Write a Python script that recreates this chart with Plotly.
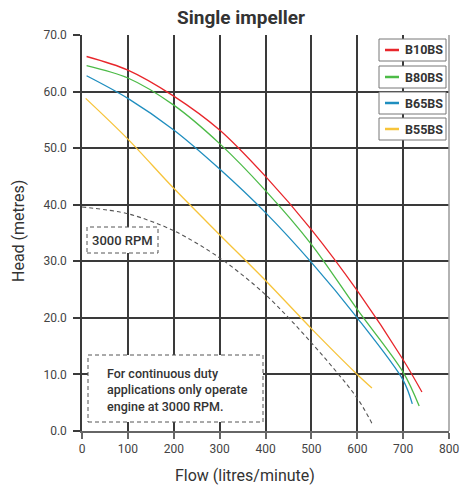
import plotly.graph_objects as go

# ---------------- data ----------------
b10_flow = [10, 100, 200, 300, 400, 500, 600, 700, 741]
b10_head = [66.2, 63.8, 59.2, 53.2, 45.0, 35.6, 24.8, 12.6, 6.9]

b80_flow = [10, 100, 200, 300, 400, 500, 600, 700, 735]
b80_head = [64.6, 62.4, 57.6, 50.8, 42.5, 33.0, 21.5, 10.4, 4.4]

b65_flow = [10, 100, 200, 300, 400, 500, 600, 700, 720]
b65_head = [62.8, 58.8, 53.2, 46.3, 38.6, 29.8, 20.0, 9.0, 4.8]

b55_flow = [8, 100, 200, 300, 400, 500, 600, 632]
b55_head = [58.8, 51.6, 42.9, 34.7, 26.6, 18.1, 10.0, 7.6]

rpm_flow = [0, 100, 200, 300, 400, 500, 600, 633]
rpm_head = [39.6, 38.4, 35.4, 30.6, 24.1, 15.6, 5.8, 1.2]

series_names = ["B10BS", "B80BS", "B65BS", "B55BS"]
series_colors = ["#e8262b", "#4cbb47", "#1f8ebf", "#f7c43a"]
series_flows = [b10_flow, b80_flow, b65_flow, b55_flow]
series_heads = [b10_head, b80_head, b65_head, b55_head]

x_ticks = [0, 100, 200, 300, 400, 500, 600, 700, 800]
y_ticks = [0, 10, 20, 30, 40, 50, 60, 70]

title_text = "Single impeller"
x_title = "Flow (litres/minute)"
y_title = "Head (metres)"
rpm_label = "3000 RPM"
note_text = "For continuous duty<br>applications only operate<br>engine at 3000 RPM."

# ---------------- layout geometry (screen pixels) ----------------
W, H = 460, 489
PL, PR, PT, PB = 82, 449, 35, 431  # plot area
L, T, R, B = PL, PT, W - PR, H - PB
PW, PH = PR - PL, PB - PT
FONT = "Roboto"
TXT = "#333333"


def px(xs):
    return (xs - PL) / PW


def py(ys):
    return (PB - ys) / PH


fig = go.Figure()

fig.add_trace(go.Scatter(
    x=rpm_flow, y=rpm_head, mode="lines", line_shape="spline",
    line=dict(color="#555555", width=1.1, dash="4px,3px", smoothing=0.9),
    showlegend=False, hoverinfo="skip"))

for name, col, fx, hy in zip(series_names[::-1], series_colors[::-1],
                             series_flows[::-1], series_heads[::-1]):
    fig.add_trace(go.Scatter(
        x=fx, y=hy, mode="lines", name=name, line_shape="spline",
        line=dict(color=col, width=1.3, smoothing=0.9), showlegend=False))

shapes = []
annotations = []

# right spine
shapes.append(dict(type="line", xref="paper", yref="paper", x0=1, x1=1, y0=0, y1=1,
                   line=dict(color="#9a9a9a", width=1.5), layer="above"))

# legend boxes
box_tops = [39, 66, 92, 118]
for i, (name, col) in enumerate(zip(series_names, series_colors)):
    top = box_tops[i]
    bot = top + 22
    shapes.append(dict(type="rect", xref="paper", yref="paper",
                       x0=px(379), x1=px(446), y0=py(bot), y1=py(top),
                       fillcolor="white", line=dict(color="#777777", width=1),
                       layer="above"))
    mid = (top + bot) / 2
    shapes.append(dict(type="line", xref="paper", yref="paper",
                       x0=px(385), x1=px(399), y0=py(mid), y1=py(mid),
                       line=dict(color=col, width=2.5), layer="above"))
    annotations.append(dict(xref="paper", yref="paper", x=px(403), y=py(mid),
                            xanchor="left", yanchor="middle", showarrow=False,
                            text=name, font=dict(family=FONT, size=12.5, color=TXT,
                                                 weight="bold")))

# 3000 RPM box
shapes.append(dict(type="rect", xref="paper", yref="paper",
                   x0=px(87), x1=px(158), y0=py(253), y1=py(227),
                   fillcolor="white", line=dict(color="#555555", width=1, dash="4px,3px"),
                   layer="above"))
annotations.append(dict(xref="paper", yref="paper", x=px(122.5), y=py(240),
                        xanchor="center", yanchor="middle", showarrow=False,
                        text=rpm_label, font=dict(family=FONT, size=13, color=TXT,
                                                  weight=500)))

# note box
shapes.append(dict(type="rect", xref="paper", yref="paper",
                   x0=px(88), x1=px(263), y0=py(422), y1=py(355),
                   fillcolor="white", line=dict(color="#555555", width=1, dash="4px,3px"),
                   layer="above"))
annotations.append(dict(xref="paper", yref="paper", x=px(105), y=py(389.5),
                        xanchor="left", yanchor="middle", showarrow=False, align="left",
                        text=note_text, font=dict(family=FONT, size=12.5, color=TXT,
                                                  weight=500)))

# axis titles
annotations.append(dict(xref="paper", yref="paper", x=px(245), y=py(475),
                        xanchor="center", yanchor="middle", showarrow=False,
                        text=x_title, font=dict(family=FONT, size=16, color=TXT)))
annotations.append(dict(xref="paper", yref="paper", x=px(18), y=py(231),
                        xanchor="center", yanchor="middle", showarrow=False,
                        textangle=-90,
                        text=y_title, font=dict(family=FONT, size=16, color=TXT)))

fig.update_layout(
    width=W, height=H, autosize=False,
    margin=dict(l=L, r=R, t=T, b=B, pad=0, autoexpand=False),
    paper_bgcolor="white", plot_bgcolor="white",
    title=dict(text=title_text, x=241 / W, xref="container", xanchor="center",
               y=1 - 17 / H, yref="container", yanchor="middle", automargin=False,
               font=dict(family=FONT, size=19, color=TXT, weight="bold")),
    shapes=shapes, annotations=annotations,
    showlegend=False,
)

fig.update_xaxes(
    range=[0, 800], tickvals=x_ticks, ticktext=[str(v) for v in x_ticks],
    showgrid=True, gridcolor="#3a3a3a", gridwidth=1.6,
    showline=True, linecolor="#666666", linewidth=1.5,
    ticks="outside", ticklen=6, tickwidth=1.5, tickcolor="#666666",
    zeroline=False, tickfont=dict(family=FONT, size=12, color="#444444"),
    automargin=False, fixedrange=True,
)
fig.update_yaxes(
    range=[0, 70], tickvals=y_ticks, ticktext=[f"{v:.1f}" for v in y_ticks],
    showgrid=True, gridcolor="#3a3a3a", gridwidth=1.6,
    showline=True, linecolor="#3a3a3a", linewidth=1.6,
    ticks="outside", ticklen=7, tickwidth=1.5, tickcolor="#3a3a3a",
    zeroline=False, tickfont=dict(family=FONT, size=12, color="#444444"),
    ticklabelstandoff=4, automargin=False,
    fixedrange=True,
)

fig.write_html(
    "out.html",
    config={"responsive": False, "displayModeBar": False},
    post_script="document.body.style.margin='0';document.body.style.overflow='hidden';",
)
